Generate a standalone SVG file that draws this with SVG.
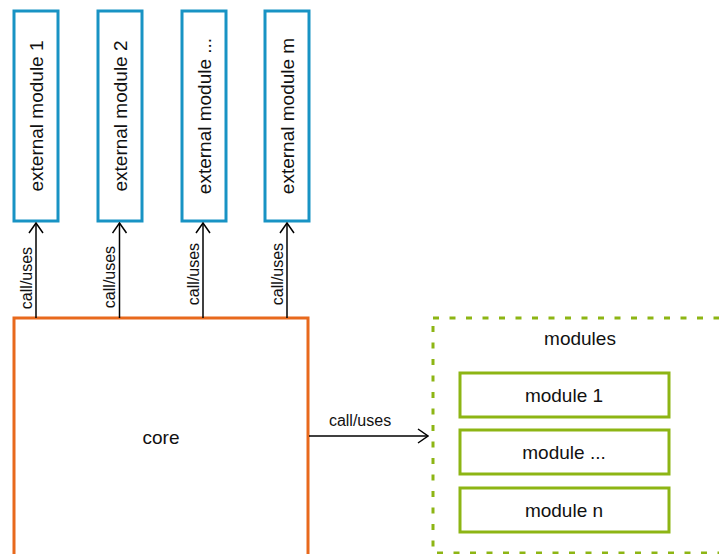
<svg xmlns="http://www.w3.org/2000/svg" width="719" height="554" viewBox="0 0 719 554">
<defs>
<style>
.ext{fill:#fff;stroke:#1893c4;stroke-width:3}
.core{fill:#fff;stroke:#e8691c;stroke-width:3}
.mod{fill:#fff;stroke:#8db514;stroke-width:3}
.grp{fill:none;stroke:#8db514;stroke-width:3;stroke-dasharray:6 10.5}
.t{font-family:"Liberation Sans",Arial,sans-serif;font-size:19px;fill:#111;text-anchor:middle;dominant-baseline:central}
.lbl{font-family:"Liberation Sans",Arial,sans-serif;font-size:16px;fill:#111;text-anchor:middle;dominant-baseline:central}
.edge{fill:none;stroke:#000;stroke-width:1.5}
</style>
<marker id="arr" viewBox="0 0 12 16" refX="11" refY="8" markerWidth="12" markerHeight="16" markerUnits="userSpaceOnUse" orient="auto">
<path d="M1,1 L11,8 L1,15" fill="none" stroke="#000" stroke-width="1.5"/>
</marker>
</defs>
<rect width="719" height="554" fill="#fff"/>
<g id="modules-group">
<rect class="grp" x="433" y="318" width="300" height="235"/>
<text class="t" x="580" y="338">modules</text>
</g>
<g id="ext1"><rect class="ext" x="14" y="11" width="44" height="210"/><text class="t" transform="translate(36,116) rotate(-90)">external module 1</text></g>
<g id="ext2"><rect class="ext" x="98" y="11" width="44" height="210"/><text class="t" transform="translate(120,116) rotate(-90)">external module 2</text></g>
<g id="ext3"><rect class="ext" x="182" y="11" width="44" height="210"/><text class="t" transform="translate(204,116) rotate(-90)">external module ...</text></g>
<g id="ext4"><rect class="ext" x="265" y="11" width="44" height="210"/><text class="t" transform="translate(287,116) rotate(-90)">external module m</text></g>
<g id="core"><rect class="core" x="14" y="318" width="294" height="240"/><text class="t" x="161" y="437">core</text></g>
<g id="module1"><rect class="mod" x="460" y="373" width="209" height="44"/><text class="t" x="564" y="395">module 1</text></g>
<g id="moduleDots"><rect class="mod" x="460" y="430" width="209" height="44"/><text class="t" x="564" y="452">module ...</text></g>
<g id="moduleN"><rect class="mod" x="460" y="488" width="209" height="44"/><text class="t" x="564" y="510">module n</text></g>
<g id="connectors">
<line class="edge" x1="36" y1="318" x2="36" y2="223" marker-end="url(#arr)"/>
<line class="edge" x1="119.5" y1="318" x2="119.5" y2="223" marker-end="url(#arr)"/>
<line class="edge" x1="203" y1="318" x2="203" y2="223" marker-end="url(#arr)"/>
<line class="edge" x1="287" y1="318" x2="287" y2="223" marker-end="url(#arr)"/>
<line class="edge" x1="309" y1="436" x2="428" y2="436" marker-end="url(#arr)"/>
<text class="lbl" transform="translate(26,278) rotate(-90)">call/uses</text>
<text class="lbl" transform="translate(109.5,277) rotate(-90)">call/uses</text>
<text class="lbl" transform="translate(193,274) rotate(-90)">call/uses</text>
<text class="lbl" transform="translate(277,274) rotate(-90)">call/uses</text>
<text class="lbl" x="360" y="420">call/uses</text>
</g>
</svg>
